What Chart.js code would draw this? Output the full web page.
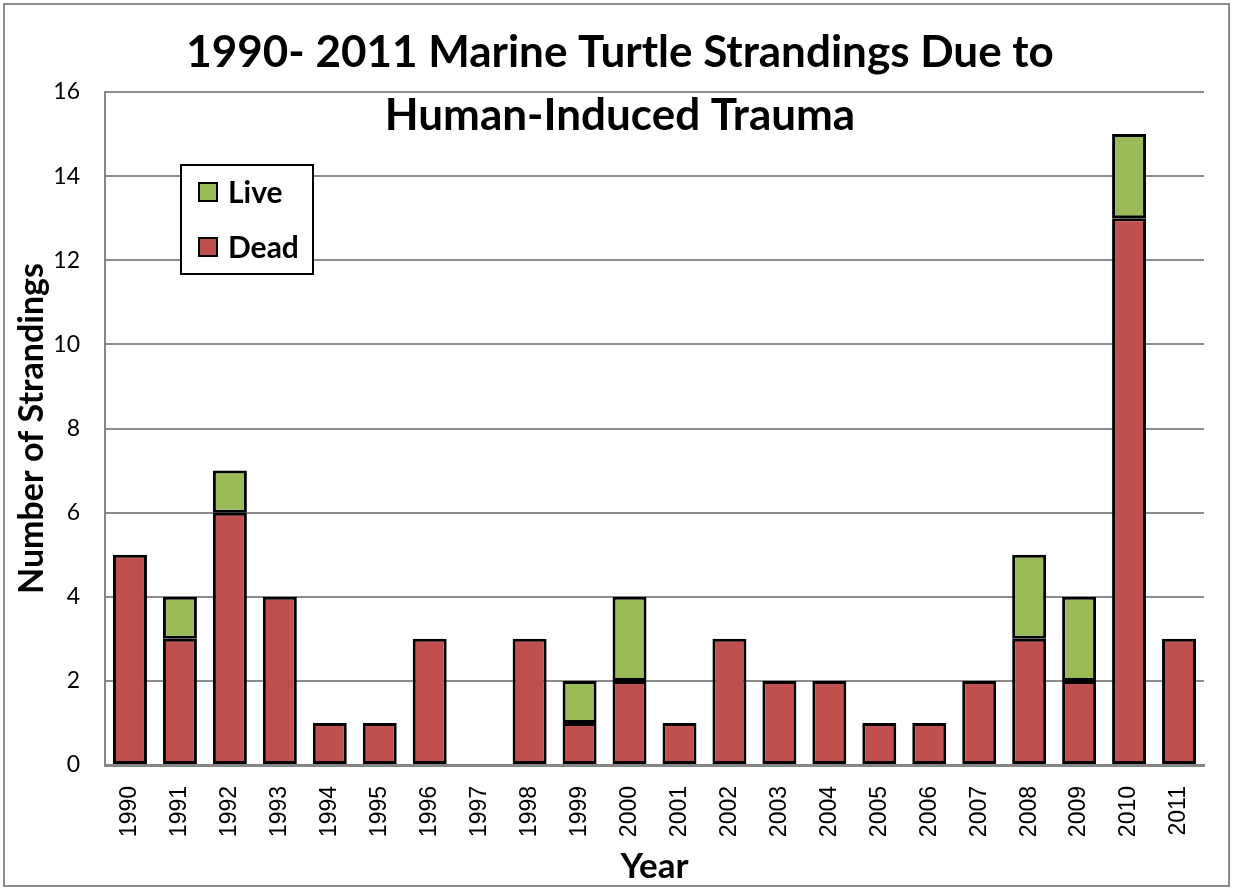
<!DOCTYPE html>
<html>
<head>
<meta charset="utf-8">
<script src="https://cdn.jsdelivr.net/npm/chart.js@4"></script>
<style>
  html, body { margin: 0; padding: 0; background: #fff; }
  #wrap { width: 1233px; height: 890px; position: relative; }
</style>
</head>
<body>
<div id="wrap"><canvas id="strandingsChart"></canvas></div>
<script>
const years = ["1990","1991","1992","1993","1994","1995","1996","1997","1998","1999","2000",
               "2001","2002","2003","2004","2005","2006","2007","2008","2009","2010","2011"];
const dead = [5, 3, 6, 4, 1, 1, 3, 0, 3, 1, 2, 1, 3, 2, 2, 1, 1, 2, 3, 2, 13, 3];
const live = [0, 1, 1, 0, 0, 0, 0, 0, 0, 1, 2, 0, 0, 0, 0, 0, 0, 0, 2, 2, 2, 0];
const yTicks = [0, 2, 4, 6, 8, 10, 12, 14, 16];
const titleLines = ["1990- 2011 Marine Turtle Strandings Due to", "Human-Induced Trauma"];

const CAL = "Lato, 'Open Sans', sans-serif";

// title, outer frame and boxed legend drawn on top of the chart
const decorations = {
  id: "decorations",
  afterDraw(chart) {
    const c = chart.ctx;
    c.save();
    // outer frame
    c.strokeStyle = "#8c8c8c";
    c.lineWidth = 2;
    c.strokeRect(4, 4, 1225, 882);

    // title
    c.fillStyle = "#000";
    c.font = "bold 44px " + CAL;
    c.textAlign = "center";
    c.textBaseline = "middle";
    c.fillText(titleLines[0], 620, 53);
    c.fillText(titleLines[1], 620, 116);

    // legend box
    c.fillStyle = "#fff";
    c.fillRect(181, 165, 132, 109);
    c.strokeStyle = "#000";
    c.lineWidth = 2;
    c.strokeRect(181, 165, 132, 109);
    const items = chart.data.datasets.slice().reverse();
    items.forEach((ds, i) => {
      const y = 192 + i * 55;
      c.fillStyle = ds.backgroundColor;
      c.fillRect(199, y - 9, 18, 18);
      c.strokeStyle = "#000";
      c.lineWidth = 2;
      c.strokeRect(199, y - 9, 18, 18);
      c.fillStyle = "#000";
      c.font = "bold 30px " + CAL;
      c.textAlign = "left";
      c.fillText(ds.label, 228, y + 1);
    });
    c.restore();
  }
};

new Chart(document.getElementById("strandingsChart"), {
  type: "bar",
  data: {
    labels: years,
    datasets: [
      {
        label: "Dead",
        data: dead,
        backgroundColor: "#C0504D",
        borderColor: "#000",
        borderWidth: (ctx) => (ctx.raw ? 3 : 0),
        borderSkipped: false,
        barPercentage: 0.68,
        categoryPercentage: 1
      },
      {
        label: "Live",
        data: live,
        backgroundColor: "#9BBB59",
        borderColor: "#000",
        borderWidth: (ctx) => (ctx.raw ? 3 : 0),
        borderSkipped: false,
        barPercentage: 0.68,
        categoryPercentage: 1
      }
    ]
  },
  options: {
    responsive: true,
    maintainAspectRatio: false,
    animation: false,
    layout: { padding: { top: 92, right: 29, left: 0, bottom: 0 } },
    plugins: {
      legend: { display: false },
      title: { display: false },
      tooltip: { enabled: false }
    },
    scales: {
      x: {
        stacked: true,
        afterFit: (s) => { s.height = 125; },
        grid: { display: false, drawTicks: false },
        border: { color: "#868686", width: 3 },
        ticks: {
          color: "#000",
          font: { family: "'Liberation Sans', Arial, sans-serif", size: 23 },
          minRotation: 90,
          maxRotation: 90,
          autoSkip: false,
          padding: 21
        },
        title: {
          display: true,
          text: "Year",
          color: "#000",
          font: { family: CAL, size: 35, weight: "bold" },
          padding: { top: 0, bottom: 2 }
        }
      },
      y: {
        stacked: true,
        min: 0,
        max: 16,
        afterFit: (s) => { s.width = 105; },
        afterBuildTicks: (s) => { s.ticks = yTicks.map(v => ({ value: v })); },
        grid: { color: "#8c8c8c", lineWidth: 2, drawTicks: false },
        border: { color: "#868686", width: 2 },
        ticks: {
          color: "#000",
          font: { family: CAL, size: 23 },
          padding: 25
        },
        title: {
          display: true,
          text: "Number of Strandings",
          color: "#000",
          font: { family: CAL, size: 34, weight: "bold" },
          padding: { top: 12, bottom: 0 }
        }
      }
    }
  },
  plugins: [decorations]
});
</script>
</body>
</html>
